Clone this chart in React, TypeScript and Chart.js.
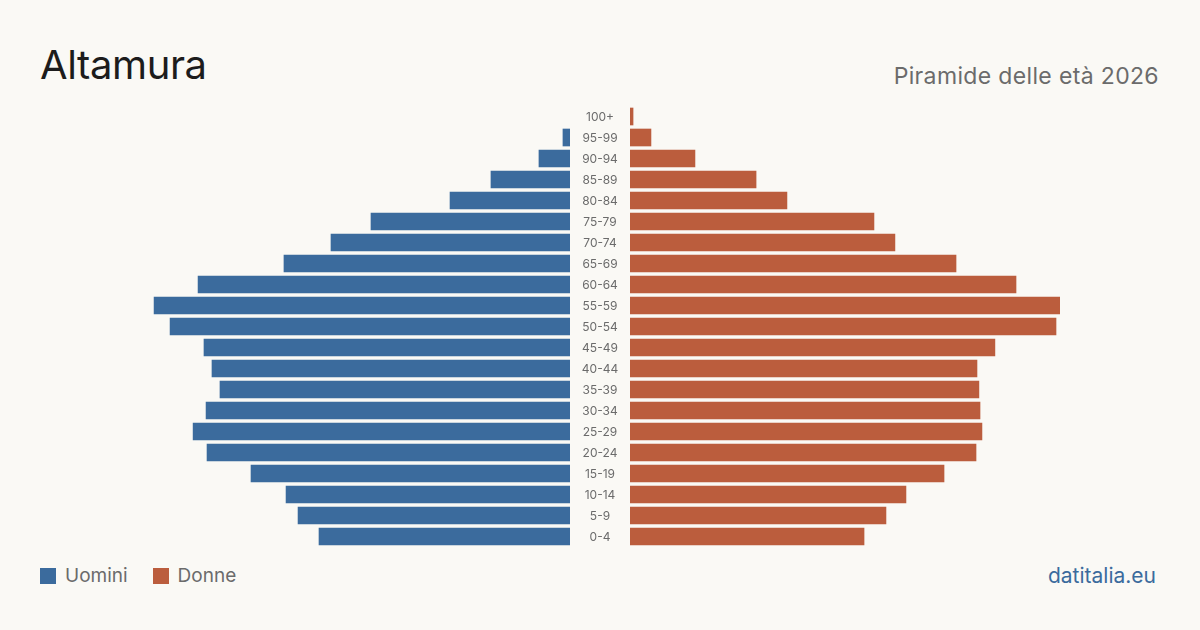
import React, { useEffect, useRef } from "react";
import { Chart, registerables } from "chart.js";

Chart.register(...registerables);

// Age groups, oldest at the top
const ageGroups = [
  "100+", "95-99", "90-94", "85-89", "80-84", "75-79", "70-74", "65-69",
  "60-64", "55-59", "50-54", "45-49", "40-44", "35-39", "30-34", "25-29",
  "20-24", "15-19", "10-14", "5-9", "0-4",
];

// Residents by age group
const men = [
  0, 44, 194, 494, 750, 1244, 1494, 1788, 2325, 2600, 2500,
  2288, 2238, 2188, 2275, 2356, 2269, 1994, 1775, 1700, 1569,
];
const women = [
  19, 131, 406, 788, 981, 1525, 1656, 2038, 2413, 2688, 2663,
  2281, 2169, 2181, 2188, 2200, 2163, 1963, 1725, 1600, 1463,
];

const seriesNames = ["Uomini", "Donne"];
const title = "Altamura";
const subtitle = "Piramide delle età 2026";
const source = "datitalia.eu";

const BLUE = "#3b6b9d";
const ORANGE = "#bb5d3d";
const BG = "#faf9f5";
const FONT = "Inter, 'Noto Sans', sans-serif";
const LABEL_GAP = 60;

const axisMax = Math.max(...men, ...women);

// Empty groups get no visible sliver
const fillFor = (values: number[], color: string) => (ctx: any) =>
  values[ctx.dataIndex] > 0 ? color : "rgba(0,0,0,0)";

// Writes the age group names in the gap to the right of the men's bars
const ageLabelsPlugin = {
  id: "ageLabels",
  afterDraw(chart: any) {
    const { ctx, chartArea, scales } = chart;
    const y = scales.y;
    ctx.save();
    ctx.fillStyle = "#6b6b6b";
    ctx.font = `12px ${FONT}`;
    ctx.textAlign = "center";
    ctx.textBaseline = "middle";
    ageGroups.forEach((g, i) => {
      ctx.fillText(g, chartArea.right + LABEL_GAP / 2, y.getPixelForValue(i) + 0.5);
    });
    ctx.restore();
  },
};

export default function App() {
  const leftRef = useRef<HTMLCanvasElement>(null);
  const rightRef = useRef<HTMLCanvasElement>(null);

  useEffect(() => {
    const left = new Chart(leftRef.current!, {
      type: "bar",
      data: {
        labels: ageGroups,
        datasets: [
          {
            label: seriesNames[0],
            data: men,
            backgroundColor: fillFor(men, BLUE),
            barThickness: 17,
          },
        ],
      },
      options: {
        indexAxis: "y",
        animation: false,
        responsive: false,
        maintainAspectRatio: false,
        layout: { padding: { left: 0, top: 0, bottom: 0, right: LABEL_GAP } },
        plugins: { legend: { display: false }, tooltip: { enabled: false } },
        scales: {
          x: { display: false, reverse: true, min: 0, max: axisMax },
          y: { display: false },
        },
      },
      plugins: [ageLabelsPlugin],
    });

    const right = new Chart(rightRef.current!, {
      type: "bar",
      data: {
        labels: ageGroups,
        datasets: [
          {
            label: seriesNames[1],
            data: women,
            backgroundColor: fillFor(women, ORANGE),
            barThickness: 17,
          },
        ],
      },
      options: {
        indexAxis: "y",
        animation: false,
        responsive: false,
        maintainAspectRatio: false,
        layout: { padding: 0 },
        plugins: { legend: { display: false }, tooltip: { enabled: false } },
        scales: {
          x: { display: false, min: 0, max: axisMax },
          y: { display: false },
        },
      },
    });

    return () => {
      left.destroy();
      right.destroy();
    };
  }, []);

  return (
    <div
      style={{
        position: "absolute",
        left: 0,
        top: 0,
        width: 1200,
        height: 630,
        background: BG,
        fontFamily: FONT,
        overflow: "hidden",
      }}
    >
      <div
        style={{
          position: "absolute",
          left: 40,
          top: 40,
          fontSize: 40,
          lineHeight: "50px",
          color: "#1c1c1c",
          letterSpacing: -0.4,
        }}
      >
        {title}
      </div>
      <div
        style={{
          position: "absolute",
          right: 41,
          top: 61,
          fontSize: 23,
          lineHeight: "30px",
          color: "#6b6b6b",
          letterSpacing: 0.35,
        }}
      >
        {subtitle}
      </div>

      <canvas
        ref={leftRef}
        width={490}
        height={441}
        style={{ position: "absolute", left: 140, top: 106, width: 490, height: 441 }}
      />
      <canvas
        ref={rightRef}
        width={430}
        height={441}
        style={{ position: "absolute", left: 630, top: 106, width: 430, height: 441 }}
      />

      <div
        style={{
          position: "absolute",
          left: 40,
          top: 564,
          display: "flex",
          alignItems: "center",
          fontSize: 19,
          lineHeight: "24px",
          color: "#6b6b6b",
        }}
      >
        <span style={{ width: 16, height: 16, background: BLUE, display: "inline-block", marginRight: 9 }} />
        <span style={{ marginRight: 25 }}>{seriesNames[0]}</span>
        <span style={{ width: 16, height: 16, background: ORANGE, display: "inline-block", marginRight: 9 }} />
        <span>{seriesNames[1]}</span>
      </div>

      <div
        style={{
          position: "absolute",
          right: 44,
          top: 563,
          fontSize: 21,
          lineHeight: "26px",
          color: "#3b6b9d",
        }}
      >
        {source}
      </div>
    </div>
  );
}
